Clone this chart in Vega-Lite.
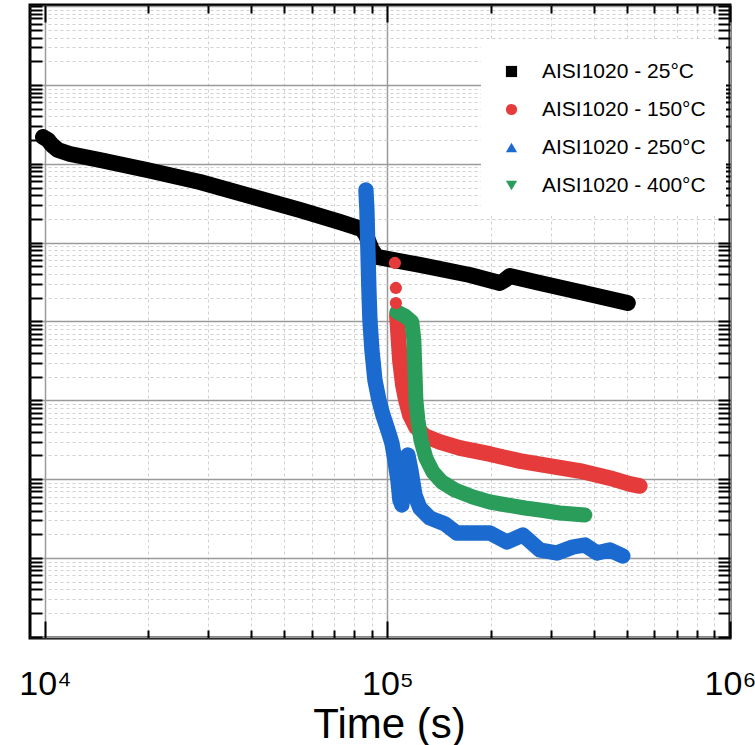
{
  "$schema": "https://vega.github.io/schema/vega-lite/v6.json",
  "width": 700,
  "height": 633,
  "autosize": {"type": "none"},
  "padding": {"left": 30, "top": 5, "right": 25, "bottom": 107},
  "background": "white",
  "config": {"font": "Liberation Sans", "view": {"stroke": "black", "strokeWidth": 3}},
  "data": {"values": [
    {"series": "AISI1020 - 25°C", "t": 9867, "v": 0.02189},
    {"series": "AISI1020 - 25°C", "t": 10204, "v": 0.02006},
    {"series": "AISI1020 - 25°C", "t": 10482, "v": 0.01733},
    {"series": "AISI1020 - 25°C", "t": 10913, "v": 0.014975},
    {"series": "AISI1020 - 25°C", "t": 11831, "v": 0.013325},
    {"series": "AISI1020 - 25°C", "t": 14468, "v": 0.011184},
    {"series": "AISI1020 - 25°C", "t": 19852, "v": 0.008349},
    {"series": "AISI1020 - 25°C", "t": 28347, "v": 0.005881},
    {"series": "AISI1020 - 25°C", "t": 39667, "v": 0.003907},
    {"series": "AISI1020 - 25°C", "t": 55519, "v": 0.002596},
    {"series": "AISI1020 - 25°C", "t": 72621, "v": 0.001829},
    {"series": "AISI1020 - 25°C", "t": 84202, "v": 0.00149},
    {"series": "AISI1020 - 25°C", "t": 86497, "v": 0.001251},
    {"series": "AISI1020 - 25°C", "t": 90055, "v": 0.000807},
    {"series": "AISI1020 - 25°C", "t": 93129, "v": 0.000658},
    {"series": "AISI1020 - 25°C", "t": 124336, "v": 0.000521},
    {"series": "AISI1020 - 25°C", "t": 174000, "v": 0.000389},
    {"series": "AISI1020 - 25°C", "t": 212910, "v": 0.000308},
    {"series": "AISI1020 - 25°C", "t": 220180, "v": 0.000336},
    {"series": "AISI1020 - 25°C", "t": 227700, "v": 0.000378},
    {"series": "AISI1020 - 25°C", "t": 278600, "v": 0.000308},
    {"series": "AISI1020 - 25°C", "t": 364450, "v": 0.000237},
    {"series": "AISI1020 - 25°C", "t": 503000, "v": 0.0001716},
    {"series": "AISI1020 - 150°C", "t": 105100, "v": 0.0005521, "iso": true},
    {"series": "AISI1020 - 150°C", "t": 105810, "v": 0.000266, "iso": true},
    {"series": "AISI1020 - 150°C", "t": 105810, "v": 0.0001716, "iso": true},
    {"series": "AISI1020 - 150°C", "t": 106520, "v": 0.00012087},
    {"series": "AISI1020 - 150°C", "t": 107240, "v": 0.00007799},
    {"series": "AISI1020 - 150°C", "t": 108690, "v": 0.00003246},
    {"series": "AISI1020 - 150°C", "t": 110900, "v": 0.00001564},
    {"series": "AISI1020 - 150°C", "t": 113160, "v": 0.000010093},
    {"series": "AISI1020 - 150°C", "t": 116240, "v": 0.000006512},
    {"series": "AISI1020 - 150°C", "t": 121040, "v": 0.000004587},
    {"series": "AISI1020 - 150°C", "t": 128580, "v": 0.000003527},
    {"series": "AISI1020 - 150°C", "t": 142210, "v": 0.00000296},
    {"series": "AISI1020 - 150°C", "t": 162690, "v": 0.000002484},
    {"series": "AISI1020 - 150°C", "t": 199060, "v": 0.000002084},
    {"series": "AISI1020 - 150°C", "t": 243490, "v": 0.000001699},
    {"series": "AISI1020 - 150°C", "t": 297850, "v": 0.000001468},
    {"series": "AISI1020 - 150°C", "t": 364400, "v": 0.000001269},
    {"series": "AISI1020 - 150°C", "t": 445800, "v": 0.000001034},
    {"series": "AISI1020 - 150°C", "t": 510000, "v": 8.681e-7},
    {"series": "AISI1020 - 150°C", "t": 545400, "v": 8.187e-7},
    {"series": "AISI1020 - 250°C", "t": 86497, "v": 0.004656},
    {"series": "AISI1020 - 250°C", "t": 87080, "v": 0.002596},
    {"series": "AISI1020 - 250°C", "t": 87670, "v": 0.000807},
    {"series": "AISI1020 - 250°C", "t": 88260, "v": 0.0002508},
    {"series": "AISI1020 - 250°C", "t": 88860, "v": 0.00010445},
    {"series": "AISI1020 - 250°C", "t": 90055, "v": 0.00004347},
    {"series": "AISI1020 - 250°C", "t": 91890, "v": 0.00001811},
    {"series": "AISI1020 - 250°C", "t": 94390, "v": 0.000010093},
    {"series": "AISI1020 - 250°C", "t": 96960, "v": 0.000006512},
    {"series": "AISI1020 - 250°C", "t": 100270, "v": 0.000004202},
    {"series": "AISI1020 - 250°C", "t": 103000, "v": 0.000002874},
    {"series": "AISI1020 - 250°C", "t": 105100, "v": 0.000001749},
    {"series": "AISI1020 - 250°C", "t": 107240, "v": 9.754e-7},
    {"series": "AISI1020 - 250°C", "t": 108690, "v": 5.438e-7},
    {"series": "AISI1020 - 250°C", "t": 110160, "v": 4.7e-7},
    {"series": "AISI1020 - 250°C", "t": 112400, "v": 0.000001129},
    {"series": "AISI1020 - 250°C", "t": 114690, "v": 0.000002024},
    {"series": "AISI1020 - 250°C", "t": 117020, "v": 0.000001307},
    {"series": "AISI1020 - 250°C", "t": 120230, "v": 6.293e-7},
    {"series": "AISI1020 - 250°C", "t": 124336, "v": 4.305e-7},
    {"series": "AISI1020 - 250°C", "t": 132970, "v": 3.215e-7},
    {"series": "AISI1020 - 250°C", "t": 147080, "v": 2.699e-7},
    {"series": "AISI1020 - 250°C", "t": 159440, "v": 2.074e-7},
    {"series": "AISI1020 - 250°C", "t": 177540, "v": 2.074e-7},
    {"series": "AISI1020 - 250°C", "t": 199060, "v": 2.074e-7},
    {"series": "AISI1020 - 250°C", "t": 223160, "v": 1.595e-7},
    {"series": "AISI1020 - 250°C", "t": 248440, "v": 1.956e-7},
    {"series": "AISI1020 - 250°C", "t": 278600, "v": 1.262e-7},
    {"series": "AISI1020 - 250°C", "t": 312200, "v": 1.157e-7},
    {"series": "AISI1020 - 250°C", "t": 347700, "v": 1.378e-7},
    {"series": "AISI1020 - 250°C", "t": 376900, "v": 1.461e-7},
    {"series": "AISI1020 - 250°C", "t": 408600, "v": 1.157e-7},
    {"series": "AISI1020 - 250°C", "t": 445800, "v": 1.262e-7},
    {"series": "AISI1020 - 250°C", "t": 486500, "v": 1.0595e-7},
    {"series": "AISI1020 - 400°C", "t": 106520, "v": 0.0001319},
    {"series": "AISI1020 - 400°C", "t": 112400, "v": 0.0001174},
    {"series": "AISI1020 - 400°C", "t": 117810, "v": 0.00009851},
    {"series": "AISI1020 - 400°C", "t": 119400, "v": 0.00005823},
    {"series": "AISI1020 - 400°C", "t": 120230, "v": 0.00002424},
    {"series": "AISI1020 - 400°C", "t": 121040, "v": 0.000010093},
    {"series": "AISI1020 - 400°C", "t": 122680, "v": 0.000005628},
    {"series": "AISI1020 - 400°C", "t": 125180, "v": 0.000003138},
    {"series": "AISI1020 - 400°C", "t": 129440, "v": 0.000001855},
    {"series": "AISI1020 - 400°C", "t": 135680, "v": 0.000001232},
    {"series": "AISI1020 - 400°C", "t": 144140, "v": 9.201e-7},
    {"series": "AISI1020 - 400°C", "t": 157310, "v": 7.283e-7},
    {"series": "AISI1020 - 400°C", "t": 177540, "v": 5.937e-7},
    {"series": "AISI1020 - 400°C", "t": 199060, "v": 5.13e-7},
    {"series": "AISI1020 - 400°C", "t": 223160, "v": 4.7e-7},
    {"series": "AISI1020 - 400°C", "t": 251800, "v": 4.305e-7},
    {"series": "AISI1020 - 400°C", "t": 278600, "v": 4.061e-7},
    {"series": "AISI1020 - 400°C", "t": 318600, "v": 3.721e-7},
    {"series": "AISI1020 - 400°C", "t": 376900, "v": 3.509e-7}
  ]},
  "layer": [
    {
      "transform": [{"filter": "datum.iso !== true"}],
      "mark": {"type": "line", "strokeCap": "round", "strokeJoin": "round"},
      "encoding": {
        "x": {
          "field": "t", "type": "quantitative",
          "scale": {"type": "log", "domain": [9042, 1000000], "nice": false, "zero": false},
          "axis": {
            "orient": "bottom",
            "values": [10000, 20000, 30000, 40000, 50000, 60000, 70000, 80000, 90000, 100000, 200000, 300000, 400000, 500000, 600000, 700000, 800000, 900000, 1000000],
            "labelExpr": "datum.value == 10000 ? '10⁴' : datum.value == 100000 ? '10⁵' : datum.value == 1000000 ? '10⁶' : ''",
            "labelFontSize": 34, "labelColor": "black", "labelBaseline": "alphabetic", "labelPadding": 73,
            "labelFlush": false, "labelOverlap": false, "labelBound": false,
            "domain": false, "ticks": true, "tickColor": "black", "tickWidth": 2,
            "tickSize": {"condition": {"test": "abs(log(datum.value)/LN10 - round(log(datum.value)/LN10)) < 0.001", "value": -17}, "value": -8},
            "grid": true,
            "gridColor": {"condition": {"test": "abs(log(datum.value)/LN10 - round(log(datum.value)/LN10)) < 0.001", "value": "#9a9a9a"}, "value": "#d0d0d0"},
            "gridDash": {"condition": {"test": "abs(log(datum.value)/LN10 - round(log(datum.value)/LN10)) < 0.001", "value": []}, "value": [3, 3]},
            "gridWidth": {"condition": {"test": "abs(log(datum.value)/LN10 - round(log(datum.value)/LN10)) < 0.001", "value": 1.5}, "value": 1},
            "title": "Time (s)", "titleFontSize": 42, "titleFontWeight": "normal", "titleColor": "black",
            "titleBaseline": "alphabetic", "titleX": 359, "titleY": 99
          }
        },
        "y": {
          "field": "v", "type": "quantitative",
          "scale": {"type": "log", "domain": [9.658e-9, 1.0348], "nice": false, "zero": false},
          "axis": {
            "orient": "left",
            "values": [1e-8, 2e-8, 3e-8, 4e-8, 5e-8, 6e-8, 7e-8, 8e-8, 9e-8, 1e-7, 2e-7, 3e-7, 4e-7, 5e-7, 6e-7, 7e-7, 8e-7, 9e-7, 1e-6, 2e-6, 3e-6, 4e-6, 5e-6, 6e-6, 7e-6, 8e-6, 9e-6, 1e-5, 2e-5, 3e-5, 4e-5, 5e-5, 6e-5, 7e-5, 8e-5, 9e-5, 1e-4, 2e-4, 3e-4, 4e-4, 5e-4, 6e-4, 7e-4, 8e-4, 9e-4, 0.001, 0.002, 0.003, 0.004, 0.005, 0.006, 0.007, 0.008, 0.009, 0.01, 0.02, 0.03, 0.04, 0.05, 0.06, 0.07, 0.08, 0.09, 0.1, 0.2, 0.3, 0.4, 0.5, 0.6, 0.7, 0.8, 0.9, 1],
            "labels": false, "domain": false, "ticks": true, "tickColor": "black", "tickWidth": 2, "tickSize": -12,
            "grid": true,
            "gridColor": {"condition": {"test": "abs(log(datum.value)/LN10 - round(log(datum.value)/LN10)) < 0.001", "value": "#9a9a9a"}, "value": "#d0d0d0"},
            "gridDash": {"condition": {"test": "abs(log(datum.value)/LN10 - round(log(datum.value)/LN10)) < 0.001", "value": []}, "value": [3, 3]},
            "gridWidth": {"condition": {"test": "abs(log(datum.value)/LN10 - round(log(datum.value)/LN10)) < 0.001", "value": 1.5}, "value": 1},
            "title": null
          }
        },
        "color": {
          "field": "series", "type": "nominal",
          "scale": {"domain": ["AISI1020 - 25°C", "AISI1020 - 150°C", "AISI1020 - 250°C", "AISI1020 - 400°C"], "range": ["#000000", "#e63b3b", "#1b6ad0", "#2a9d5a"]},
          "legend": null
        },
        "strokeWidth": {
          "field": "series", "type": "nominal",
          "scale": {"domain": ["AISI1020 - 25°C", "AISI1020 - 150°C", "AISI1020 - 250°C", "AISI1020 - 400°C"], "range": [16, 15, 13, 16]},
          "legend": null
        }
      }
    },
    {
      "transform": [{"filter": "datum.iso === true"}],
      "mark": {"type": "point", "filled": true, "opacity": 1, "size": 150},
      "encoding": {
        "x": {"field": "t", "type": "quantitative", "axis": null},
        "y": {"field": "v", "type": "quantitative", "axis": null},
        "color": {
          "field": "series", "type": "nominal",
          "legend": {"orient": "none", "legendX": 451, "legendY": 36, "title": null, "labelFontSize": 21, "labelLimit": 400, "labelColor": "black", "symbolSize": 125, "symbolStrokeWidth": 0, "rowPadding": 16, "labelOffset": 20, "padding": 20, "fillColor": "white", "symbolOpacity": 1}
        },
        "shape": {
          "field": "series", "type": "nominal",
          "scale": {"domain": ["AISI1020 - 25°C", "AISI1020 - 150°C", "AISI1020 - 250°C", "AISI1020 - 400°C"], "range": ["square", "circle", "triangle-up", "triangle-down"]},
          "legend": {"orient": "none", "legendX": 451, "legendY": 36, "title": null, "labelFontSize": 21, "labelLimit": 400, "labelColor": "black", "symbolSize": 125, "symbolStrokeWidth": 0, "rowPadding": 16, "labelOffset": 20, "padding": 20, "fillColor": "white", "symbolOpacity": 1}
        }
      }
    },
    {
      "mark": {"type": "point", "opacity": 0},
      "encoding": {
        "x": {
          "field": "t", "type": "quantitative",
          "axis": {
            "orient": "top",
            "values": [10000, 20000, 30000, 40000, 50000, 60000, 70000, 80000, 90000, 100000, 200000, 300000, 400000, 500000, 600000, 700000, 800000, 900000, 1000000],
            "labels": false, "domain": false, "grid": false, "ticks": true, "tickColor": "black", "tickWidth": 2,
            "tickSize": {"condition": {"test": "abs(log(datum.value)/LN10 - round(log(datum.value)/LN10)) < 0.001", "value": -17}, "value": -8},
            "title": null
          }
        },
        "y": {
          "field": "v", "type": "quantitative",
          "axis": {
            "orient": "right",
            "values": [1e-8, 2e-8, 3e-8, 4e-8, 5e-8, 6e-8, 7e-8, 8e-8, 9e-8, 1e-7, 2e-7, 3e-7, 4e-7, 5e-7, 6e-7, 7e-7, 8e-7, 9e-7, 1e-6, 2e-6, 3e-6, 4e-6, 5e-6, 6e-6, 7e-6, 8e-6, 9e-6, 1e-5, 2e-5, 3e-5, 4e-5, 5e-5, 6e-5, 7e-5, 8e-5, 9e-5, 1e-4, 2e-4, 3e-4, 4e-4, 5e-4, 6e-4, 7e-4, 8e-4, 9e-4, 0.001, 0.002, 0.003, 0.004, 0.005, 0.006, 0.007, 0.008, 0.009, 0.01, 0.02, 0.03, 0.04, 0.05, 0.06, 0.07, 0.08, 0.09, 0.1, 0.2, 0.3, 0.4, 0.5, 0.6, 0.7, 0.8, 0.9, 1],
            "labels": false, "domain": false, "grid": false, "ticks": true, "tickColor": "black", "tickWidth": 2, "tickSize": -12,
            "title": null
          }
        }
      }
    }
  ],
  "resolve": {"axis": {"x": "independent", "y": "independent"}, "legend": {"color": "independent", "shape": "independent"}}
}
